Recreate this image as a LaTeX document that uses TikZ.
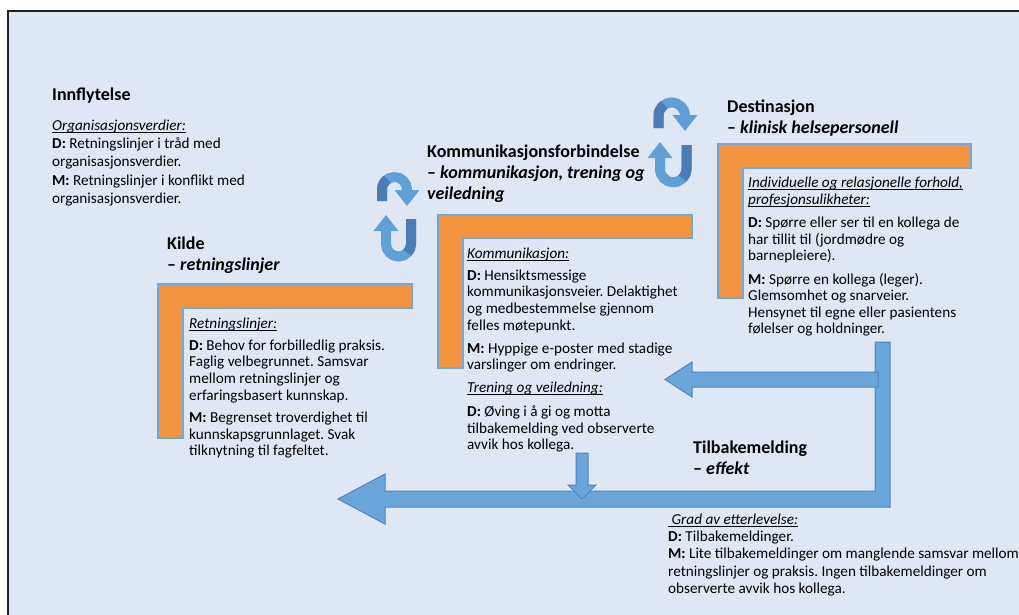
\documentclass[tikz,border=0pt]{standalone}
\usepackage{fontspec}
\setmainfont{Carlito}
\usetikzlibrary{arrows.meta}
\frenchspacing
\definecolor{bgblue}{HTML}{E0E7F4}
\definecolor{orng}{HTML}{F39441}
\definecolor{lbord}{HTML}{6FA8DC}
\definecolor{arfill}{HTML}{6AA6DB}
\definecolor{ardraw}{HTML}{4F85BD}
\definecolor{rotA}{HTML}{5FA0D8}
\definecolor{rotB}{HTML}{4A7DB3}
\definecolor{framec}{HTML}{222222}
\newsavebox{\ulbox}
\newcommand{\myul}[1]{\sbox{\ulbox}{#1}\rlap{\rule[-2.6pt]{\wd\ulbox}{0.9pt}}\usebox{\ulbox}}
\tikzset{
  bodytext/.style={anchor=north west, inner sep=0pt, align=left, font=\fontsize{15.2}{16.6}\selectfont},
  headtext/.style={anchor=north west, inner sep=0pt, align=left, font=\fontsize{18}{21}\selectfont\bfseries},
  lshape/.style={fill=orng, draw=lbord, line width=1.5pt},
  blockarrow/.style={fill=arfill, draw=ardraw, line width=1pt, line join=miter},
  rotarrow/.style={draw=rotA, line width=10pt, -{Triangle[width=24pt,length=16pt]}},
  rotshade/.style={draw=rotB, line width=10pt},
}
\begin{document}
\begin{tikzpicture}[x=1pt,y=-1pt]
\useasboundingbox (0,0) rectangle (1019,615);
\fill[white] (0,0) rectangle (1019,615);
\draw[fill=bgblue, draw=framec, line width=2pt] (8,11) rectangle (1040,640);

% orange L shapes
\draw[lshape] (158,284) -- (412,284) -- (412,308) -- (183,308) -- (183,438) -- (158,438) -- cycle;
\draw[lshape] (438,215) -- (692,215) -- (692,238) -- (463,238) -- (463,368) -- (438,368) -- cycle;
\draw[lshape] (718,144) -- (971,144) -- (971,168) -- (743,168) -- (743,298) -- (718,298) -- cycle;

% feedback block arrows
\draw[blockarrow] (875,342) -- (890,342) -- (890,507) -- (385,507) -- (385,524) -- (338,499)
   -- (385,474) -- (385,491) -- (875,491) -- cycle;
\draw[blockarrow] (878,372) -- (692,372) -- (692,362) -- (665,379.5) -- (692,397) -- (692,387)
   -- (878,387) -- cycle;
\draw[blockarrow] (576,453) -- (588,453) -- (588,485) -- (596,485) -- (582,499) -- (568,485)
   -- (576,485) -- cycle;

% rotating arrows, left pair
\draw[rotarrow] (382,201) -- (382,189.5) arc[start angle=180, end angle=360, radius=12.5] -- (407,206);
\draw[rotshade] (382,201) -- (382,189.5) arc[start angle=180, end angle=235, radius=12.5];
\draw[rotarrow] (411,219) -- (411,244) arc[start angle=0, end angle=180, radius=12.5] -- (386,215);
\draw[rotshade] (411,219) -- (411,244) arc[start angle=0, end angle=45, radius=12.5];
% rotating arrows, right pair
\draw[rotarrow] (658.5,128) -- (658.5,115.75) arc[start angle=180, end angle=360, radius=13.25] -- (685,131);
\draw[rotshade] (658.5,128) -- (658.5,115.75) arc[start angle=180, end angle=235, radius=13.25];
\draw[rotarrow] (686.5,145) -- (686.5,169) arc[start angle=0, end angle=180, radius=13.25] -- (660,142);
\draw[rotshade] (686.5,145) -- (686.5,169) arc[start angle=0, end angle=45, radius=13.25];

% Innflytelse
\node[headtext] (innh) at (52,85.3) {\strut Innflytelse};
\node[bodytext, font=\fontsize{15.2}{18}\selectfont] (innb) at (52,117.4) {\strut\myul{\textit{Organisasjonsverdier:}}\\
\textbf{D:} Retningslinjer i tråd med\\
organisasjonsverdier.\\[1pt]
\textbf{M:} Retningslinjer i konflikt med\\
organisasjonsverdier.};

% Kilde
\node[headtext] (kildeh) at (167,234.3) {\strut Kilde\\– \textit{retningslinjer}};
\node[bodytext] (kildeb) at (189,316.4) {\strut\myul{\textit{Retningslinjer:}}\\[5.4pt]
\textbf{D:} Behov for forbilledlig praksis.\\
Faglig velbegrunnet. Samsvar\\
mellom retningslinjer og\\
erfaringsbasert kunnskap.\\[6pt]
\textbf{M:} Begrenset troverdighet til\\
kunnskapsgrunnlaget. Svak\\
tilknytning til fagfeltet.};

% Kommunikasjonsforbindelse
\node[headtext] (kommh) at (427,142.3) {\strut Kommunikasjonsforbindelse\\– \textit{kommunikasjon, trening og}\\\textit{veiledning}};
\node[bodytext] (kommb) at (467,246.4) {\strut\myul{\textit{Kommunikasjon:}}\\[5.4pt]
\textbf{D:} Hensiktsmessige\\
kommunikasjonsveier. Delaktighet\\
og medbestemmelse gjennom\\
felles møtepunkt.\\[6.4pt]
\textbf{M:} Hyppige e-poster med stadige\\
varslinger om endringer.\\[6.4pt]
\myul{\textit{Trening og veiledning:}}\\[7.4pt]
\textbf{D:} Øving i å gi og motta\\
tilbakemelding ved observerte\\
avvik hos kollega.};

% Destinasjon
\node[headtext] (desth) at (727,97.3) {\strut Destinasjon\\– \textit{klinisk helsepersonell}};
\node[bodytext, font=\fontsize{15.2}{16.5}\selectfont] (destb) at (748,176) {\strut\myul{\textit{Individuelle og relasjonelle forhold,}}\\
\myul{\textit{profesjonsulikheter:}}\\[7pt]
\textbf{D:} Spørre eller ser til en kollega de\\
har tillit til (jordmødre og\\
barnepleiere).\\[7pt]
\textbf{M:} Spørre en kollega (leger).\\
Glemsomhet og snarveier.\\
Hensynet til egne eller pasientens\\
følelser og holdninger.};

% Tilbakemelding
\node[headtext] (tilbh) at (693,438.3) {\strut Tilbakemelding\\– \textit{effekt}};
\node[bodytext, font=\fontsize{15.2}{17.3}\selectfont] (tilbb) at (668,511.9) {\strut\myul{\ \textit{Grad av etterlevelse:}}\\
\textbf{D:} Tilbakemeldinger.\\
\textbf{M:} Lite tilbakemeldinger om manglende samsvar mellom\\
retningslinjer og praksis. Ingen tilbakemeldinger om\\
observerte avvik hos kollega.};
\end{tikzpicture}
\end{document}
